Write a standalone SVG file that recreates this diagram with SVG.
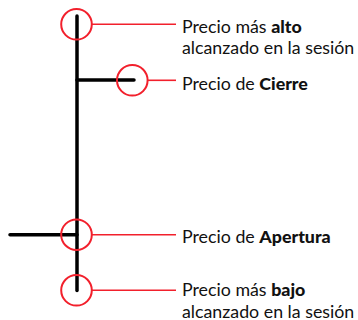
<svg xmlns="http://www.w3.org/2000/svg" width="358" height="320" viewBox="0 0 358 320">
<style>
.bar{stroke:#000;stroke-width:3.5;stroke-linecap:round;fill:none}
.ring{stroke:#f2202c;stroke-width:2;fill:none}
.lead{stroke:#f2202c;stroke-width:1.6;fill:none}
text{font-family:Lato,"Liberation Sans",sans-serif;font-size:17.8px;fill:#111}
.b{font-weight:900}
</style>
<rect width="358" height="320" fill="#fff"/>
<g id="candle">
<line class="bar" x1="77" y1="16" x2="77" y2="290.5"/>
<line class="bar" x1="77" y1="80" x2="134" y2="80"/>
<line class="bar" x1="10" y1="234.7" x2="77" y2="234.7"/>
</g>
<g id="connectors">
<line class="lead" x1="92" y1="24.3" x2="176" y2="24.3"/>
<line class="lead" x1="148" y1="80.3" x2="176" y2="80.3"/>
<line class="lead" x1="92" y1="234.7" x2="176" y2="234.7"/>
<line class="lead" x1="92" y1="290.3" x2="176" y2="290.3"/>
</g>
<g id="high">
<circle class="ring" cx="76.5" cy="24.3" r="15.3"/>
<text x="182" y="32.5">Precio más <tspan class="b">alto</tspan></text>
<text x="182" y="54.3">alcanzado en la sesión</text>
</g>
<g id="close">
<circle class="ring" cx="132.3" cy="80.3" r="15.3"/>
<text x="182" y="89.8">Precio de <tspan class="b">Cierre</tspan></text>
</g>
<g id="open">
<circle class="ring" cx="76.5" cy="234.7" r="15.3"/>
<text x="182" y="242.6">Precio de <tspan class="b">Apertura</tspan></text>
</g>
<g id="low">
<circle class="ring" cx="76.5" cy="290.3" r="15.3"/>
<text x="182" y="295.6">Precio más <tspan class="b">bajo</tspan></text>
<text x="182" y="317.5">alcanzado en la sesión</text>
</g>
</svg>
